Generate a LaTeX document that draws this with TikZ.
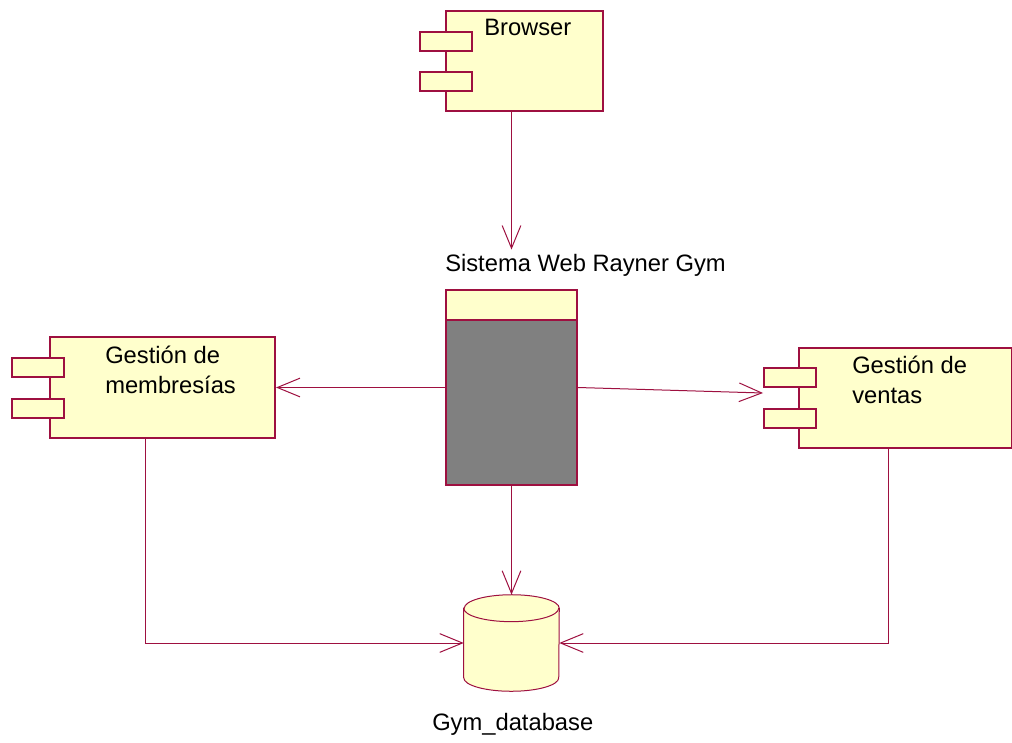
\documentclass[tikz,border=0pt]{standalone}
\usepackage{fontspec}
\setmainfont{Liberation Sans}
\usetikzlibrary{arrows.meta,positioning,calc}
\definecolor{umlred}{RGB}{158,16,64}
\definecolor{umlyellow}{RGB}{255,255,204}
\definecolor{umlgrey}{RGB}{128,128,128}

\begin{document}
\begin{tikzpicture}[
  x=0.75pt, y=-0.75pt,
  font=\fontsize{17.8}{22.5}\selectfont,
  comp/.style={draw=umlred, fill=umlyellow, line width=1.5pt, anchor=north west, inner sep=0pt},
  port/.style={comp, minimum width=39pt, minimum height=14.25pt},
  txt/.style={anchor=base west, inner sep=0pt, align=left},
  arr/.style={draw=umlred, line width=0.75pt, -{Straight Barb[length=17pt,width=14pt,line width=0.75pt]}}
]
\useasboundingbox (0,0) rectangle (1012,742);

% browser component
\node[comp, minimum width=117.75pt, minimum height=75pt] (bro) at (445,10) {};
\node[port] (bro-p1) at (419,31) {};
\node[port] (bro-p2) at (419,71) {};
\node[txt] (bro-t) at (484,36) {Browser};

% web system
\node[txt] (sys-t) at (445,271) {Sistema Web Rayner Gym};
\node[comp, fill=umlgrey, minimum width=98.25pt, minimum height=146.25pt] (cen) at (445,289) {};
\node[comp, minimum width=98.25pt, minimum height=22.5pt] (cen-top) at (445,289) {};

% membresias
\node[comp, minimum width=168.75pt, minimum height=75.75pt] (mem) at (49,336) {};
\node[port] (mem-p1) at (11,357) {};
\node[port] (mem-p2) at (11,398) {};
\node[txt] (mem-t) at (105,393) {Gestión de\\membresías};

% ventas
\node[comp, minimum width=159.75pt, minimum height=75pt] (ven) at (798,347) {};
\node[port] (ven-p1) at (763,367) {};
\node[port] (ven-p2) at (763,408) {};
\node[txt] (ven-t) at (852,403) {Gestión de\\ventas};
\coordinate (ven-in) at (763,393);

% database
\node[minimum width=71.25pt, minimum height=72pt, inner sep=0pt] (db) at (511.5,643) {};
\draw[umlred, fill=umlyellow, line width=0.75pt]
  ([yshift=-10.1pt]db.north west) -- ([yshift=10.1pt]db.south west)
  arc[start angle=180, end angle=360, x radius=35.625pt, y radius=10.1pt]
  -- ([yshift=-10.1pt]db.north east)
  arc[start angle=0, end angle=180, x radius=35.625pt, y radius=10.1pt] -- cycle;
\draw[umlred, line width=0.75pt] ([yshift=-10.1pt]db.north west)
  arc[start angle=180, end angle=360, x radius=35.625pt, y radius=10.1pt];
\node[txt] (db-t) at (432,730) {Gym\_database};

% connectors
\draw[arr] (bro.south -| cen.north) -- ([yshift=3pt]sys-t.north -| cen.north);
\draw[arr] (cen.west) -- (mem.east);
\draw[arr] (cen.east) -- (ven-in);
\draw[arr] (cen.south) -- (cen.south |- db.north);
\draw[arr] ([xshift=-13.1pt]mem.south) |- (db.west);
\draw[arr] ([xshift=-12.4pt]ven.south) |- (db.east);
\end{tikzpicture}
\end{document}
